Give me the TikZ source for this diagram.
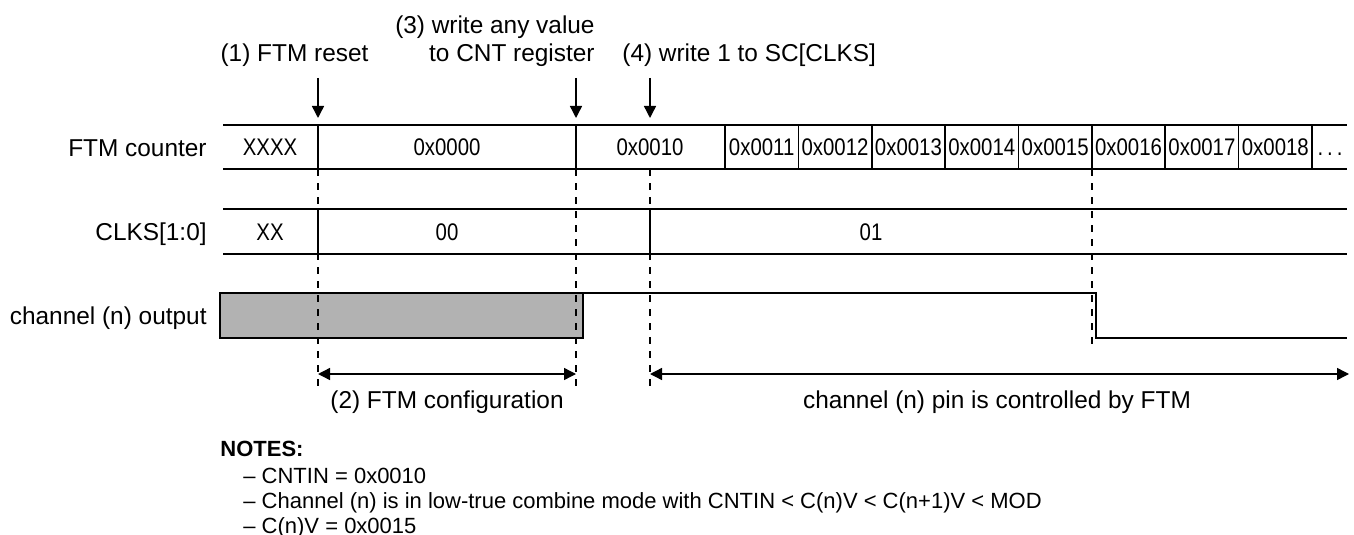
\documentclass[tikz,border=0pt]{standalone}
\usepackage{fontspec}
\setmainfont{Liberation Sans}
\newfontfamily\cellfont[FakeStretch=0.85]{Liberation Sans}
\usetikzlibrary{arrows.meta,positioning}

\begin{document}
\begin{tikzpicture}[x=0.5pt, y=-0.5pt,
  lbl/.style={font=\fontsize{12.2}{14}\selectfont, inner sep=0pt},
  val/.style={font=\cellfont\fontsize{12}{14}\selectfont, inner sep=0pt, anchor=base},
  note/.style={font=\fontsize{11}{13}\selectfont, inner sep=0pt, anchor=base west},
  sig/.style={line width=0.8pt},
  guide/.style={line width=0.6pt, dash pattern=on 3.5pt off 3.5pt},
  arr/.style={-{Triangle[length=6pt,width=6pt]}, line width=0.7pt},
  dim/.style={{Triangle[length=6pt,width=6pt]}-{Triangle[length=6pt,width=6pt]}, line width=0.7pt}]
  \useasboundingbox (0,0) rectangle (1354,535);
  % event points on the counter row
  \coordinate (rst) at (318,125);
  \coordinate (cnt) at (576,125);
  \coordinate (clk) at (650,125);
  % row labels
  \node[lbl, anchor=base east] (lcnt) at (207,156) {FTM counter};
  \node[lbl, anchor=base east] (lclks) at (207,240.5) {CLKS[1:0]};
  \node[lbl, anchor=base east] (lout) at (207,324.5) {channel (n) output};
  % event labels and arrows
  \node[lbl, anchor=base] (ev1) at (294.5,61.5) {(1) FTM reset};
  \node[lbl, anchor=base east] (ev3a) at (595,33.5) {(3) write any value};
  \node[lbl, anchor=base east] (ev3b) at (595,61.5) {to CNT register};
  \node[lbl, anchor=base west] (ev4) at (622,61.5) {(4) write 1 to SC[CLKS]};
  \foreach \t in {rst,cnt,clk} \draw[arr] ([yshift=23.5pt]\t) -- ([yshift=3.5pt]\t);
  % FTM counter row
  \draw[sig] (223,125) -- (1347,125) (223,169) -- (1347,169);
  \foreach \x in {318,576,725,798.4,871.75,945.1,1018.5,1091.9,1165.25,1238.6,1312} \draw[sig] (\x,125) -- (\x,169);
  \node[val] (c0) at (270,155.5) {XXXX};
  \node[val] (c1) at (447,155.5) {0x0000};
  \node[val] (c2) at (650,155.5) {0x0010};
  \foreach \i in {1,...,8} \node[val] (c2\i) at ({725+73.375*(\i-0.5)},155.5) {0x001\i};
  \node[val] (cdots) at (1330,155.5) {.\,.\,.};
  % CLKS row
  \draw[sig] (223,209) -- (1347,209) (223,254) -- (1347,254);
  \foreach \x in {318,650} \draw[sig] (\x,209) -- (\x,254);
  \node[val] (k0) at (270,240) {XX};
  \node[val] (k1) at (447,240) {00};
  \node[val] (k2) at (871,240) {01};
  % channel output
  \draw[sig, fill=black!30] (220,293) rectangle (583,338);
  \draw[sig] (583,293) -- (1096,293) -- (1096,338) -- (1347,338);
  % guides
  \foreach \x in {318,576,650} \draw[guide] (\x,169) -- (\x,393);
  \draw[guide] (1092,169) -- (1092,350);
  % intervals
  \coordinate (cfgA) at (318,374);
  \coordinate (cfgB) at (576,374);
  \coordinate (ctlA) at (650,374);
  \coordinate (ctlB) at (1349,374);
  \draw[dim] (cfgA) -- (cfgB);
  \draw[dim] (ctlA) -- (ctlB);
  \node[lbl, anchor=base] (cfg) at (447,408.5) {(2) FTM configuration};
  \node[lbl, anchor=base] (ctl) at (997,408.5) {channel (n) pin is controlled by FTM};
  % notes
  \node[note, font=\bfseries\fontsize{11}{13}\selectfont] (nhdr) at (220,456) {NOTES:};
  \node[note] (n1) at (243,483) {-- CNTIN = 0x0010};
  \node[note] (n2) at (243,508) {-- Channel (n) is in low-true combine mode with CNTIN < C(n)V < C(n+1)V < MOD};
  \node[note] (n3) at (243,533) {-- C(n)V = 0x0015};
\end{tikzpicture}
\end{document}
